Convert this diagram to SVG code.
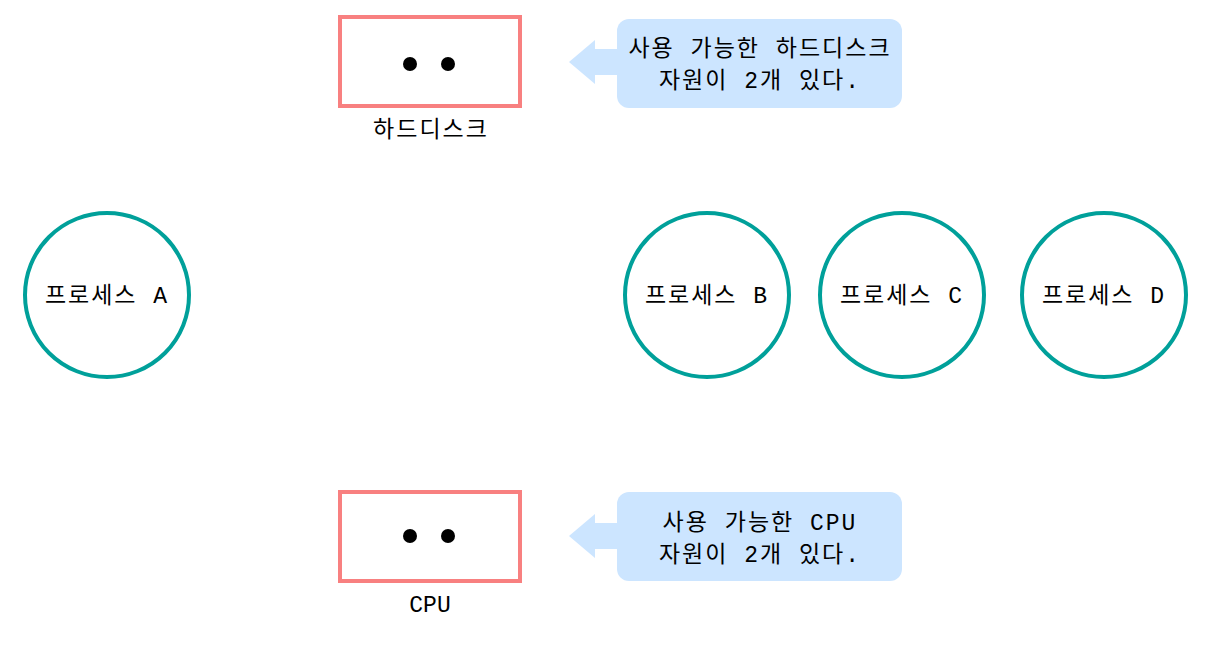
<svg xmlns="http://www.w3.org/2000/svg" width="1212" height="645" viewBox="0 0 1212 645">
<style>
.res{fill:#fff;stroke:#F88080;stroke-width:4}
.proc{fill:#fff;stroke:#00A09A;stroke-width:4}
.dot{fill:#000}
.call{fill:#CCE5FF}
text{font-family:"Liberation Mono","Noto Sans CJK KR",monospace;font-size:23px;fill:#000;text-anchor:middle;letter-spacing:2px}
</style>
<rect width="1212" height="645" fill="#fff"/>
<g id="harddisk">
<rect class="res" x="340" y="17" width="180" height="89"/>
<circle class="dot" cx="410" cy="64" r="7"/>
<circle class="dot" cx="448" cy="64" r="7"/>
<text x="431" y="137">하드디스크</text>
</g>
<g id="cpu">
<rect class="res" x="340" y="492" width="180" height="89"/>
<circle class="dot" cx="410" cy="536" r="7"/>
<circle class="dot" cx="448" cy="536" r="7"/>
<text x="430" y="612" style="letter-spacing:0">CPU</text>
</g>
<g id="procA"><circle class="proc" cx="107" cy="295" r="82"/><text x="107" y="303">프로세스 A</text></g>
<g id="procB"><circle class="proc" cx="707" cy="295" r="82"/><text x="707" y="303">프로세스 B</text></g>
<g id="procC"><circle class="proc" cx="902" cy="295" r="82"/><text x="902" y="303">프로세스 C</text></g>
<g id="procD"><circle class="proc" cx="1104" cy="295" r="82"/><text x="1104" y="303">프로세스 D</text></g>
<g id="callout1">
<rect class="call" x="617" y="19" width="285" height="89" rx="12"/>
<polygon class="call" points="569,62 595,40 595,49 618,49 618,75 595,75 595,84"/>
<text x="760" y="56">사용 가능한 하드디스크</text>
<text x="760" y="88">자원이 2개 있다.</text>
</g>
<g id="callout2">
<rect class="call" x="617" y="492" width="285" height="89" rx="12"/>
<polygon class="call" points="569,536 595,514 595,523 618,523 618,549 595,549 595,558"/>
<text x="760" y="530">사용 가능한 CPU</text>
<text x="760" y="562">자원이 2개 있다.</text>
</g>
<g id="connectors"></g>
</svg>
